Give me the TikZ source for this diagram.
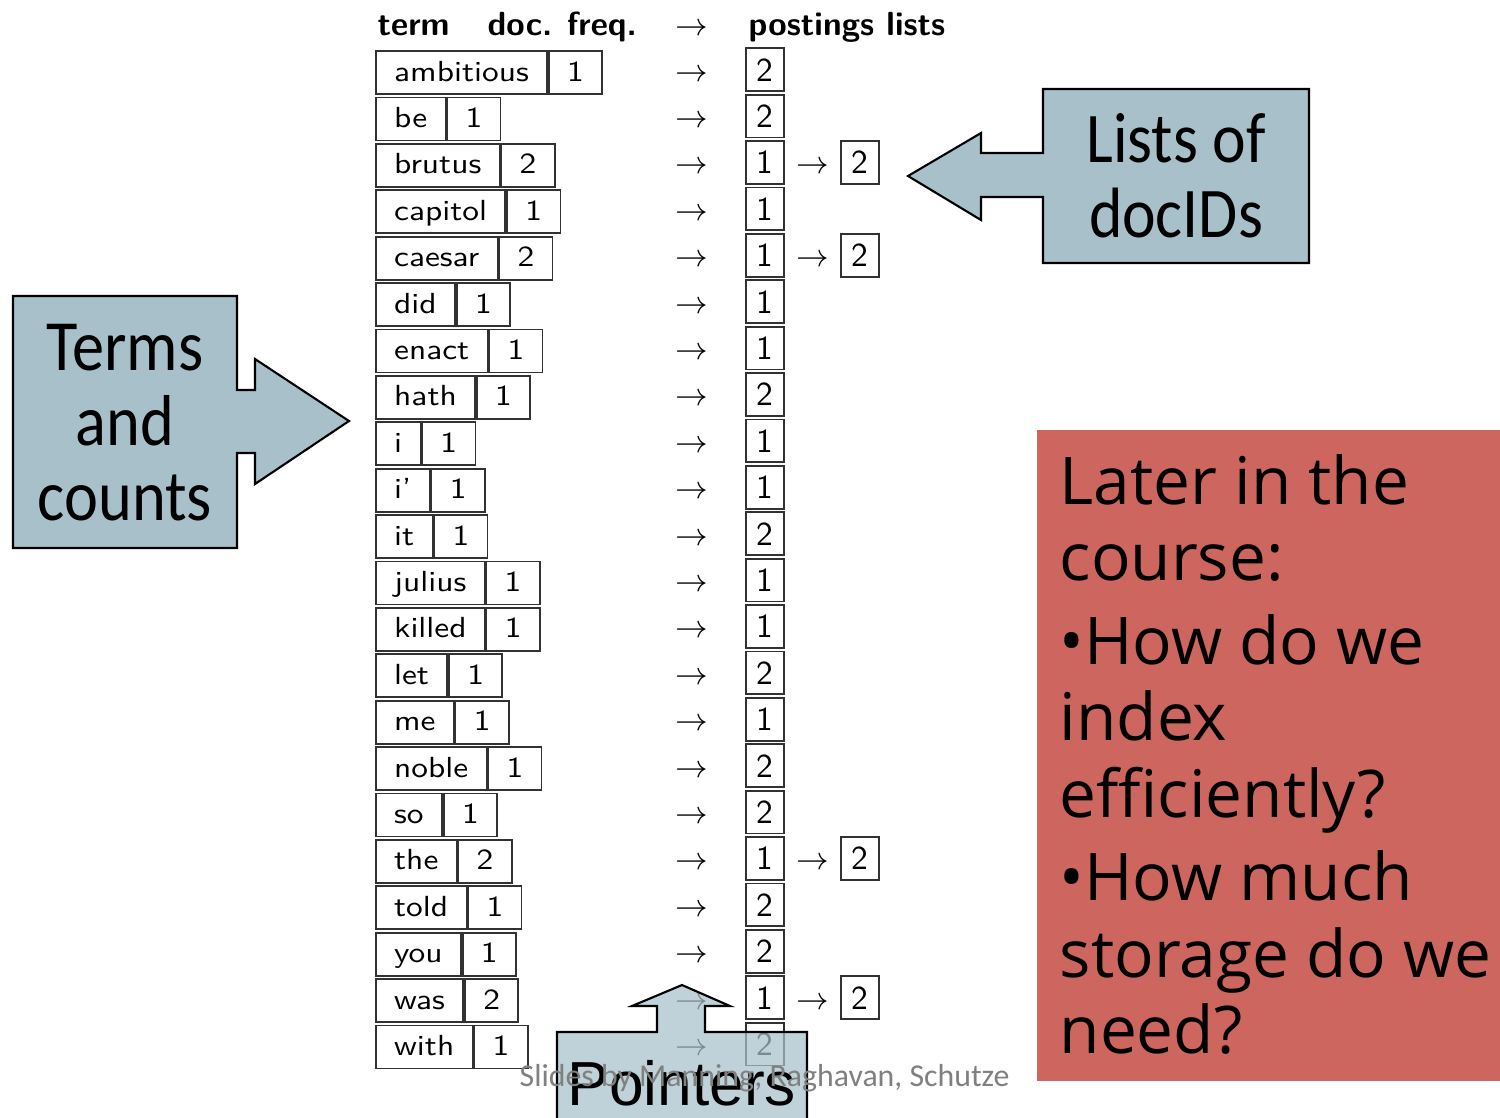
\documentclass[tikz,border=0pt]{standalone}
\usepackage{fontspec}
\usepackage{graphicx}
\newfontfamily\calib{Carlito}
\newfontfamily\opens{Open Sans}
\newfontfamily\arialf{Liberation Sans}
\definecolor{cblue}{RGB}{168,192,202}
\definecolor{cred}{RGB}{205,102,94}
\definecolor{cline}{RGB}{50,50,50}
\newcommand\tabfont{\fontsize{9.5}{11}\selectfont\sffamily}
\newcommand\hdfont{\fontsize{9.5}{11}\selectfont\sffamily\bfseries}
\newcommand\sqz[1]{\scalebox{1}[0.87]{#1}}
\tikzset{
  tcell/.style={draw=cline, line width=0.5pt, inner xsep=5.2pt, inner ysep=0pt,
    text height=8.5pt, text depth=3.7pt, font=\tabfont, anchor=base west},
  pcell/.style={draw=cline, line width=0.5pt, inner xsep=3pt, inner ysep=0pt,
    text height=9.3pt, text depth=2.85pt, font=\tabfont, anchor=base},
  parrow/.style={font=\tabfont, anchor=base, inner sep=0pt},
  hdtext/.style={font=\hdfont, anchor=base west, inner sep=0pt},
  callout/.style={draw=black, line width=0.6pt, fill=cblue},
}
\begin{document}
\begin{tikzpicture}[x=0.01cm, y=-0.01cm]
\useasboundingbox (0,0) rectangle (1500,1117);
% header
\node[hdtext] (hterm) at (377,35) {term};
\node[hdtext] (hdf) at (487,35) {doc.\hspace{4.2pt}freq.};
\node[parrow] (harr) at (692,35) {$\rightarrow$};
\node[hdtext] (hpost) at (748,35) {postings lists};
% rows
\foreach[evaluate=\i as \yb using {72.5+46.4*(\i-1)+8.5}] \i/\tm/\fq/\ps in {
  1/ambitious/1/2, 2/be/1/2, 3/brutus/2/12, 4/capitol/1/1, 5/caesar/2/12,
  6/did/1/1, 7/enact/1/1, 8/hath/1/2, 9/i/1/1, 10/i’/1/1, 11/it/1/2,
  12/julius/1/1, 13/killed/1/1, 14/let/1/2, 15/me/1/1, 16/noble/1/2,
  17/so/1/2, 18/the/2/12, 19/told/1/2, 20/you/1/2, 21/was/2/12, 22/with/1/2}{
  \node[tcell] (t\i) at (375,\yb) {\sqz{\tm}};
  \node[tcell] (f\i) at (t\i.base east) {\sqz{\fq}};
  \node[parrow] (a\i) at (692,\yb) {$\rightarrow$};
  \ifnum\ps>9
    \node[pcell] (p\i) at (765,\yb) {1};
    \node[parrow] (b\i) at (813,\yb) {$\rightarrow$};
    \node[pcell] (q\i) at (860,\yb) {2};
  \else
    \node[pcell] (p\i) at (765,\yb) {\ps};
  \fi
}
% left callout
\draw[callout] (13,296) -- (237,296) -- (237,390) -- (255,390) -- (255,359)
  -- (349,421) -- (255,484) -- (255,453) -- (237,453) -- (237,548) -- (13,548) -- cycle;
\node[anchor=base, inner sep=0pt, font={\calib\fontsize{18.3}{19.1}\selectfont}] (terms) at (125,370)
  {\scalebox{1}[1.12]{\begin{tabular}[t]{@{}c@{}}Terms\\and\\counts\end{tabular}}};
% right callout
\draw[callout] (1043,89) -- (1309,89) -- (1309,263) -- (1043,263) -- (1043,197) -- (981,197)
  -- (981,220) -- (908,176) -- (981,133) -- (981,153) -- (1043,153) -- cycle;
\node[anchor=base, inner sep=0pt, font={\calib\fontsize{18.1}{19.1}\selectfont}] (lists) at (1176,162)
  {\scalebox{1}[1.12]{\begin{tabular}[t]{@{}c@{}}Lists of\\docIDs\end{tabular}}};
% red box
\fill[cred] (1037,430) rectangle (1520,1081);
\node[anchor=base west, inner sep=0pt, font={\opens\fontsize{18.7}{21.76}\selectfont}] (later) at (1059,504)
  {\begin{tabular}[t]{@{}l@{}}Later in the\\course:\\[2pt]•How do we\\index\\efficiently?\\[2pt]•How much\\storage do we\\need?\end{tabular}};
% bottom callout
\draw[draw=black, line width=0.6pt, fill=cblue, fill opacity=0.72] (557,1140) -- (557,1032) -- (657,1032) -- (657,1006) -- (632,1006)
  -- (682,985) -- (730,1006) -- (705,1006) -- (705,1032) -- (807,1032) -- (807,1140) -- cycle;
\node[anchor=base west, inner sep=0pt, font={\arialf\fontsize{17.7}{20}\selectfont}] (ptr) at (567,1105) {Pointers};
% credit
\node[anchor=base west, inner sep=0pt, text=black!50, font={\calib\fontsize{9.05}{11}\selectfont}] (credit) at (519,1086)
  {Slides by Manning, Raghavan, Schutze};
\end{tikzpicture}
\end{document}
